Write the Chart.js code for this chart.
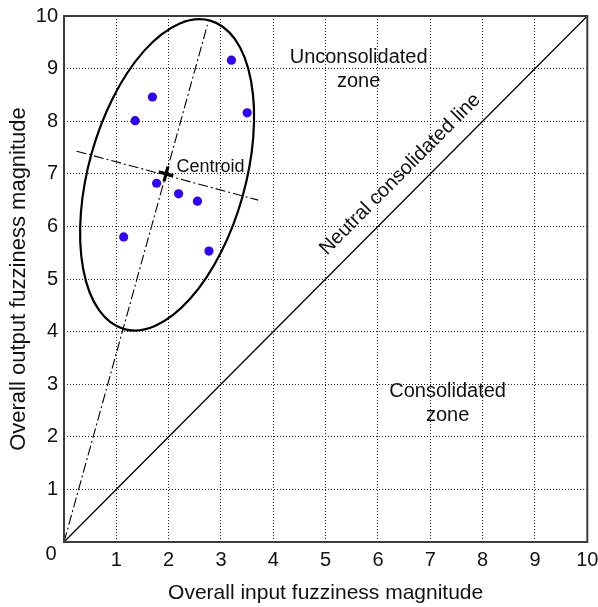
<!DOCTYPE html>
<html><head><meta charset="utf-8">
<script src="https://cdn.jsdelivr.net/npm/chart.js@4/dist/chart.umd.min.js"></script>
<style>html,body{margin:0;padding:0;background:#fff}#wrap{width:598px;height:607px}</style>
</head><body><div id="wrap"><canvas id="c" width="598" height="607"></canvas></div>
<script>
// ---- data ----
const pointsX = [3.20, 1.69, 1.36, 3.50, 1.77, 2.19, 2.55, 1.14, 2.77];
const pointsY = [9.16, 8.46, 8.01, 8.16, 6.82, 6.62, 6.48, 5.80, 5.53];
const centroidX = [1.95];
const centroidY = [7.00];
const neutralX = [0, 10];
const neutralY = [0, 10];
const majorAxisX = [0, 2.74];
const majorAxisY = [0, 9.83];
const minorAxisX = [0.24, 3.71];
const minorAxisY = [7.43, 6.50];
const ellipseCenter = [1.97, 6.98];
const ellipseSemiAxes = [3.06, 1.50];
const ellipseAngleDeg = 74.4;
const tickValues = [0, 1, 2, 3, 4, 5, 6, 7, 8, 9, 10];
const xTitle = 'Overall input fuzziness magnitude';
const yTitle = 'Overall output fuzziness magnitude';

const toPts = (xs, ys) => xs.map((x, i) => ({x, y: ys[i]}));
const FONT = '"Liberation Sans", Arial, sans-serif';

const overlay = {
  id: 'overlay',
  beforeDatasetsDraw(chart) {
    const {ctx, scales: {x, y}} = chart;
    const cx = x.getPixelForValue(ellipseCenter[0]);
    const cy = y.getPixelForValue(ellipseCenter[1]);
    const ra = x.getPixelForValue(ellipseSemiAxes[0]) - x.getPixelForValue(0);
    const rb = x.getPixelForValue(ellipseSemiAxes[1]) - x.getPixelForValue(0);
    ctx.save();
    ctx.beginPath();
    ctx.ellipse(cx, cy, ra, rb, -ellipseAngleDeg * Math.PI / 180, 0, Math.PI * 2);
    ctx.lineWidth = 2.2;
    ctx.strokeStyle = '#000';
    ctx.stroke();
    ctx.restore();
  },
  afterDatasetsDraw(chart) {
    const {ctx, chartArea: a, scales: {x, y}} = chart;
    ctx.save();
    // frame
    ctx.strokeStyle = '#3c3c3c';
    ctx.lineWidth = 2;
    ctx.strokeRect(a.left, a.top, a.right - a.left, a.bottom - a.top);
    // texts
    ctx.fillStyle = '#111';
    ctx.textAlign = 'center';
    ctx.textBaseline = 'alphabetic';
    ctx.font = '20px ' + FONT;
    const lines = (txts, dx, dy) => {
      const px = x.getPixelForValue(dx), py = y.getPixelForValue(dy);
      txts.forEach((t, i) => ctx.fillText(t, px, py + i * 23.4));
    };
    lines(['Unconsolidated', 'zone'], 5.63, 9.10);
    lines(['Consolidated', 'zone'], 7.33, 2.75);
    // Centroid label
    ctx.font = '18px ' + FONT;
    ctx.textAlign = 'left';
    ctx.fillText('Centroid', x.getPixelForValue(2.15), y.getPixelForValue(7.04));
    // origin "0"
    ctx.font = '20px ' + FONT;
    ctx.textAlign = 'center';
    ctx.textBaseline = 'middle';
    ctx.fillText('0', a.left - 13, a.bottom + 12);
    // neutral line label
    const x1 = x.getPixelForValue(neutralX[0]), y1 = y.getPixelForValue(neutralY[0]);
    const x2 = x.getPixelForValue(neutralX[1]), y2 = y.getPixelForValue(neutralY[1]);
    const ang = Math.atan2(y2 - y1, x2 - x1);
    const px = x.getPixelForValue(6.71), py = y.getPixelForValue(6.71);
    const off = 21;
    ctx.translate(px + Math.sin(ang) * off, py - Math.cos(ang) * off);
    ctx.rotate(ang);
    ctx.fillText('Neutral consolidated line', 0, 0);
    ctx.restore();
  }
};

const tickCb = v => (v === 0 ? '' : String(v));
const gridColor = ctx => (ctx.tick && (ctx.tick.value === 0 || ctx.tick.value === 10)) ? 'rgba(0,0,0,0)' : '#222';

new Chart(document.getElementById('c'), {
  type: 'scatter',
  data: {
    datasets: [
      {data: toPts(pointsX, pointsY), pointRadius: 4.6, pointBackgroundColor: '#3000ff', pointBorderWidth: 0, order: 1},
      {data: toPts(centroidX, centroidY), pointStyle: 'cross', pointRadius: 7.5, pointBorderColor: '#000', pointBorderWidth: 3.2, rotation: 15, order: 0},
      {data: toPts(neutralX, neutralY), showLine: true, pointRadius: 0, borderColor: '#000', borderWidth: 1.3, order: 2},
      {data: toPts(majorAxisX, majorAxisY), showLine: true, pointRadius: 0, borderColor: '#000', borderWidth: 1.1, borderDash: [10, 3, 2, 3], order: 2},
      {data: toPts(minorAxisX, minorAxisY), showLine: true, pointRadius: 0, borderColor: '#000', borderWidth: 1.1, borderDash: [10, 3, 2, 3], order: 2}
    ]
  },
  options: {
    responsive: false,
    animation: false,
    events: [],
    layout: {padding: {top: 16, right: 10, left: 0, bottom: 0}},
    plugins: {legend: {display: false}, tooltip: {enabled: false}},
    scales: {
      x: {
        type: 'linear', min: 0, max: 10,
        afterBuildTicks: s => { s.ticks = tickValues.map(v => ({value: v})); },
        afterFit: s => { s.height = 65; s.paddingRight = 0; s.paddingLeft = 0; },
        ticks: {callback: tickCb, font: {family: FONT, size: 20}, color: '#111', padding: 6, maxRotation: 0, autoSkip: false},
        grid: {color: gridColor, lineWidth: 1, drawTicks: false},
        border: {display: false, dash: [1, 2]},
        title: {display: true, text: xTitle, font: {family: FONT, size: 21}, color: '#111', padding: {top: 0, bottom: 1.5}}
      },
      y: {
        type: 'linear', min: 0, max: 10,
        afterBuildTicks: s => { s.ticks = tickValues.map(v => ({value: v})); },
        afterFit: s => { s.width = 64; s.paddingTop = 0; s.paddingBottom = 0; },
        ticks: {callback: tickCb, font: {family: FONT, size: 20}, color: '#111', padding: 6, autoSkip: false},
        grid: {color: gridColor, lineWidth: 1, drawTicks: false},
        border: {display: false, dash: [1, 2]},
        title: {display: true, text: yTitle, font: {family: FONT, size: 22}, color: '#111', padding: {top: 6, bottom: 0}}
      }
    }
  },
  plugins: [overlay]
});
</script>
</body></html>
